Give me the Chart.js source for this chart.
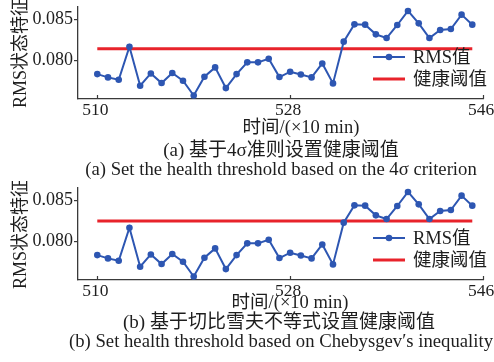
<!DOCTYPE html>
<html>
<head>
<meta charset="utf-8">
<script src="https://cdn.jsdelivr.net/npm/chart.js@4"></script>
<style>
  html, body { margin: 0; padding: 0; background: #fff; }
  #page { position: relative; width: 494px; height: 362px; overflow: hidden; background: #fff; }
  canvas { position: absolute; left: 0; }
  .txt {
    position: absolute; white-space: nowrap; transform: translate(-50%, -50%);
    font-family: 'Liberation Serif', 'Noto Sans CJK SC', serif; color: #1e1e1e; line-height: 1;
  }
</style>
</head>
<body>
<div id="page">
  <canvas id="chartA" width="494" height="118" style="top:0px"></canvas>
  <canvas id="chartB" width="494" height="118" style="top:181px"></canvas>

  <div class="txt" style="left:301px; top:127px; font-size:18.5px">时间/(×10 min)</div>
  <div class="txt" style="left:281px; top:149px; font-size:19px">(a) 基于4σ准则设置健康阈值</div>
  <div class="txt" style="left:281px; top:169px; font-size:18.7px">(a) Set the health threshold based on the 4σ criterion</div>

  <div class="txt" style="left:290px; top:302px; font-size:18.5px">时间/(×10 min)</div>
  <div class="txt" style="left:279px; top:321px; font-size:19px">(b) 基于切比雪夫不等式设置健康阈值</div>
  <div class="txt" style="left:281px; top:341px; font-size:18.7px">(b) Set health threshold based on Chebysgev′s inequality</div>
</div>

<script>
// Sampling instants (x10 min) and RMS feature values
const timeSteps = [510, 511, 512, 513, 514, 515, 516, 517, 518, 519, 520, 521,
                   522, 523, 524, 525, 526, 527, 528, 529, 530, 531, 532, 533,
                   534, 535, 536, 537, 538, 539, 540, 541, 542, 543, 544, 545];
const rmsValues = [0.07833, 0.07793, 0.07764, 0.08167, 0.07691, 0.07841, 0.07724, 0.07846,
                   0.07752, 0.07573, 0.07801, 0.07915, 0.07663, 0.07833, 0.07976, 0.07976,
                   0.08020, 0.07797, 0.07862, 0.07829, 0.07793, 0.07963, 0.07720, 0.08228,
                   0.08439, 0.08435, 0.08317, 0.08272, 0.08431, 0.08602, 0.08451, 0.08272,
                   0.08370, 0.08382, 0.08557, 0.08435];

// Health thresholds: (a) 4-sigma rule, (b) Chebyshev inequality
const thresholdSigma = 0.08142;
const thresholdChebyshev = 0.08248;

const seriesLabels = ['RMS值', '健康阈值'];
const xTickValues = [510, 528, 546];
const yTickValues = [0.080, 0.085];
const yAxisTitle = 'RMS状态特征';

const BLUE = '#2d56b2';
const RED = '#e8232b';
const AXIS = '#3a3a3a';
const TEXT = '#1e1e1e';
const FONT = "'Liberation Serif', 'Noto Sans CJK SC', serif";

// x-axis tick marks point into the plot area
const insideTicks = {
  id: 'insideTicks',
  afterDraw(chart) {
    const xs = chart.scales.x;
    const ctx = chart.ctx;
    ctx.save();
    ctx.strokeStyle = AXIS;
    ctx.lineWidth = 1.2;
    xs.ticks.forEach(t => {
      const px = Math.round(xs.getPixelForValue(t.value)) + 0.5;
      ctx.beginPath();
      ctx.moveTo(px, xs.top);
      ctx.lineTo(px, xs.top - 4);
      ctx.stroke();
    });
    ctx.restore();
  }
};

// legend block placed inside the lower right of the plot
const innerLegend = {
  id: 'innerLegend',
  afterDraw(chart) {
    const ctx = chart.ctx;
    const area = chart.chartArea;
    const x0 = area.right - 110, x1 = area.right - 78, tx = area.right - 70;
    const rows = [area.top + 50, area.top + 72];
    ctx.save();
    chart.data.datasets.forEach((ds, i) => {
      const y = rows[i];
      ctx.strokeStyle = ds.borderColor;
      ctx.lineWidth = ds.borderWidth;
      ctx.beginPath();
      ctx.moveTo(x0, y);
      ctx.lineTo(x1, y);
      ctx.stroke();
      if (ds.pointRadius > 0) {
        ctx.fillStyle = ds.borderColor;
        ctx.beginPath();
        ctx.arc((x0 + x1) / 2, y, ds.pointRadius, 0, Math.PI * 2);
        ctx.fill();
      }
      ctx.fillStyle = TEXT;
      ctx.font = '18.5px ' + FONT;
      ctx.textBaseline = 'middle';
      ctx.textAlign = 'left';
      ctx.fillText(ds.label, tx, y + 1);
    });
    ctx.restore();
  }
};

function buildChart(canvasId, threshold) {
  return new Chart(document.getElementById(canvasId), {
    type: 'line',
    data: {
      datasets: [
        {
          label: seriesLabels[0],
          data: timeSteps.map((t, i) => ({ x: t, y: rmsValues[i] })),
          borderColor: BLUE,
          backgroundColor: BLUE,
          borderWidth: 2,
          pointRadius: 3.3,
          pointBackgroundColor: BLUE,
          pointBorderWidth: 0,
          tension: 0
        },
        {
          label: seriesLabels[1],
          data: [
            { x: timeSteps[0], y: threshold },
            { x: timeSteps[timeSteps.length - 1], y: threshold }
          ],
          borderColor: RED,
          backgroundColor: RED,
          borderWidth: 3,
          pointRadius: 0
        }
      ]
    },
    options: {
      responsive: false,
      animation: false,
      devicePixelRatio: 1,
      layout: { padding: { left: 0, right: 11, top: 7, bottom: 0 } },
      plugins: { legend: { display: false }, tooltip: { enabled: false } },
      scales: {
        x: {
          type: 'linear',
          min: 508.2,
          max: 546,
          afterBuildTicks: s => { s.ticks = xTickValues.map(v => ({ value: v })); },
          afterFit: s => { s.height = 19; s.paddingLeft = 0; s.paddingRight = 0; },
          grid: { drawOnChartArea: false, drawTicks: false },
          border: { color: AXIS, width: 1.3 },
          ticks: {
            color: TEXT, padding: 1, maxRotation: 0, autoSkip: false, labelOffset: -2,
            font: { family: FONT, size: 17.5 },
            callback: v => String(v)
          }
        },
        y: {
          min: 0.0753,
          max: 0.0865,
          afterBuildTicks: s => { s.ticks = yTickValues.map(v => ({ value: v })); },
          afterFit: s => { s.width = 78; s.paddingTop = 0; s.paddingBottom = 0; },
          grid: { drawOnChartArea: false, tickLength: 4, color: AXIS, lineWidth: 1.2 },
          border: { color: AXIS, width: 1.3 },
          ticks: {
            color: TEXT, padding: 1,
            font: { family: FONT, size: 18 },
            callback: v => v.toFixed(3)
          },
          title: {
            display: true, text: yAxisTitle, color: TEXT,
            font: { family: FONT, size: 18 },
            padding: { top: 10, bottom: 0 }
          }
        }
      }
    },
    plugins: [insideTicks, innerLegend]
  });
}

buildChart('chartA', thresholdSigma);
buildChart('chartB', thresholdChebyshev);
</script>
</body>
</html>
